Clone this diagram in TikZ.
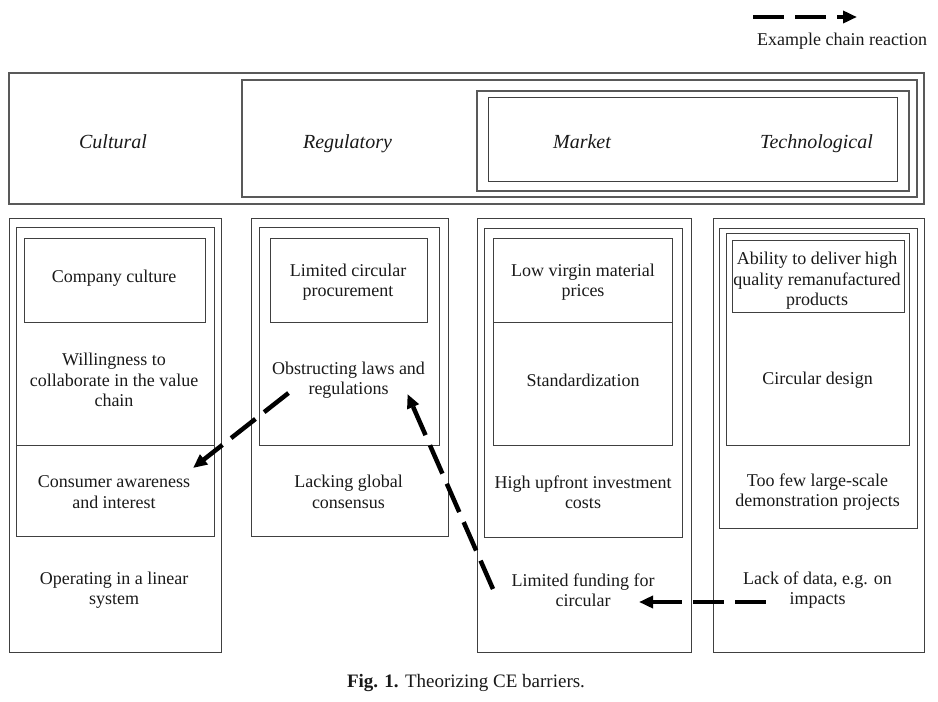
\documentclass[tikz,border=0pt]{standalone}
\usepackage{fontspec}
\setmainfont{Liberation Serif}
\usetikzlibrary{calc, positioning, arrows.meta}

\begin{document}
\begin{tikzpicture}[x=1pt, y=-1pt,
  on grid, node distance = 234.5pt,
  barrier/.style = {align=center, inner sep=0pt, text=black!90,
    font=\fontsize{18}{20.5}\selectfont},
  category/.style = {inner sep=0pt, text=black!90,
    font=\fontsize{20}{24}\selectfont\itshape},
  boxline/.style = {draw=black!75, line width=1pt},
  bandline/.style = {draw=black!65, line width=1.5pt},
  chainarrow/.style = {line width=4.5pt, dash pattern=on 31pt off 11pt,
    -{Triangle[length=14pt, width=12pt]}}]
\useasboundingbox (0,0) rectangle (938,702);

% legend
\coordinate (legstart) at (753,17);
\coordinate (legend) at (857,17);
\draw[chainarrow] (legstart) -- (legend);
\node[barrier] (legtext) at (842,41) {Example chain reaction};

% top band with the nested categories
\draw[bandline] (9,73) rectangle (924,204);
\draw[bandline] (242,80) rectangle (917,197);
\draw[bandline] (477,91) rectangle (909,191);
\draw[boxline] (488,97) rectangle (897,181);
\node[category, anchor=base] (cultural) at (113,148) {Cultural};
\node[category] (regulatory) [right = of cultural.base, anchor=base] {Regulatory};
\node[category] (market) [right = of regulatory.base, anchor=base] {Market};
\node[category] (technological) [right = of market.base, anchor=base] {Technological};

% cultural column
\draw[boxline] (9,218) rectangle (221,652);
\draw[boxline] (16,227) rectangle (214,536);
\draw[boxline] (16,227) rectangle (214,445);
\draw[boxline] (24,238) rectangle (205,322);
% regulatory column
\draw[boxline] (251,218) rectangle (448,536);
\draw[boxline] (259,227) rectangle (439,445);
\draw[boxline] (270,238) rectangle (427,322);
% market column
\draw[boxline] (477,218) rectangle (691,652);
\draw[boxline] (484,228) rectangle (682,537);
\draw[boxline] (493,238) rectangle (672,445);
\draw[boxline] (493,238) rectangle (672,322);
% technological column
\draw[boxline] (713,218) rectangle (924,652);
\draw[boxline] (719,228) rectangle (917,528);
\draw[boxline] (726,233) rectangle (909,445);
\draw[boxline] (732,240) rectangle (904,312);

% barriers, row by row
\node[barrier] (company) at (114,278) {Company culture};
\node[barrier] (procurement) at (348,282) {Limited circular\\procurement};
\node[barrier] (virgin) at (583,282) {Low virgin material\\prices};
\node[barrier] (ability) at (817,281) {Ability to deliver high\\quality remanufactured\\products};

\node[barrier] (willing) at (114,380) {Willingness to\\collaborate in the value\\chain};
\node[barrier] (obstruct) [right = of willing] {Obstructing laws and\\regulations};
\node[barrier] (standard) [right = of obstruct] {Standardization};
\node[barrier] (circdesign) [right = of standard] {Circular design};

\node[barrier] (consumer) at (114,492) {Consumer awareness\\and interest};
\node[barrier] (consensus) [right = of consumer] {Lacking global\\consensus};
\node[barrier] (upfront) [right = of consensus] {High upfront investment\\costs};
\node[barrier] (fewprojects) [right = of upfront] {Too few large-scale\\demonstration projects};

\node[barrier] (linear) at (114,590) {Operating in a linear\\system};
\node[barrier] (funding) [right = 469pt of linear] {Limited funding for\\circular};
\node[barrier] (lackdata) [right = of funding] {Lack of data, e.g. on\\impacts};

% example chain reaction
\draw[chainarrow] ($(lackdata)+(-52,12)$) -- ($(funding)+(56,12)$);
\draw[chainarrow] ($(funding)+(-90,-1)$) -- ($(obstruct)+(59,14)$);
\draw[chainarrow] ($(obstruct)+(-60,13)$) -- ($(consumer)+(79,-24)$);

\node[barrier, font=\fontsize{19}{23}\selectfont] (caption) at (466,683)
  {\textbf{Fig. 1.} Theorizing CE barriers.};
\end{tikzpicture}
\end{document}
